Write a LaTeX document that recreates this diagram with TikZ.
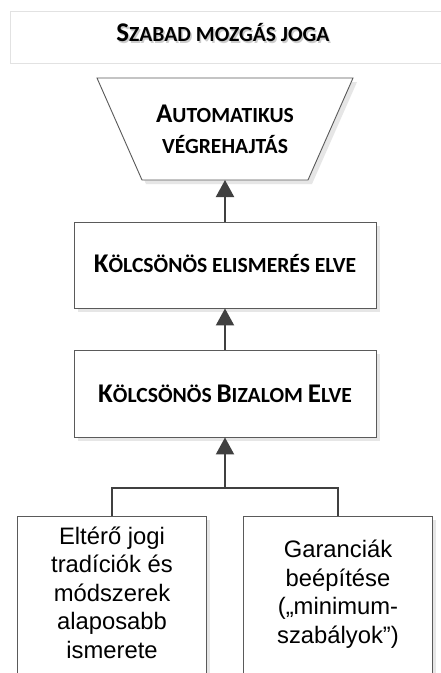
\documentclass[tikz,border=0pt]{standalone}
\usepackage{fontspec}
\setmainfont{Liberation Sans}
\newfontfamily\calib{Carlito}
\usetikzlibrary{arrows.meta}
\definecolor{edge}{HTML}{5A5A5A}
\definecolor{shade}{HTML}{E6E6E6}
\definecolor{arrc}{HTML}{404040}
\definecolor{ttl}{HTML}{E2E2E2}
\definecolor{tshadow}{HTML}{CCCCCC}
\newcommand\BigC[1]{{\fontsize{27}{31}\selectfont #1}}
\newcommand\SmC[1]{{\fontsize{21.6}{31}\selectfont #1}}
\newcommand\Shadowed[1]{\rlap{\hspace{1.5pt}\raisebox{-2.5pt}{\color{tshadow}#1}}#1}
\begin{document}
\begin{tikzpicture}[x=1pt,y=-1pt,
  box/.style={draw=edge, line width=0.9pt, fill=white, inner sep=0pt},
  shadowfill/.style={fill=shade, draw=none},
  lbl/.style={font=\calib\bfseries\fontsize{27}{31}\selectfont, anchor=base, inner sep=0pt, text=black},
  body/.style={font=\fontsize{23.8}{28.4}\selectfont, align=center, inner sep=0pt, anchor=base},
  arr/.style={draw=arrc, line width=2pt, -{Triangle[width=18pt,length=17pt]}},
  conn/.style={draw=arrc, line width=2pt}]
\useasboundingbox (0,0) rectangle (440,673);
\fill[white] (0,0) rectangle (440,673);

% title box
\draw[ttl, line width=0.8pt] (10,11) rectangle (446,63);
\node[lbl] (title) at (223,41) {\Shadowed{\BigC{S}\SmC{ZABAD MOZGÁS JOGA}}};

% trapezoid
\fill[shadowfill] (101,82) -- (357,82) -- (312,184) -- (146,184) -- cycle;
\draw[box] (97,78) -- (353,78) -- (308,180) -- (142,180) -- cycle;
\coordinate (autobot) at (225,180);
\node[lbl, align=center] (auto) at (225,153) {\BigC{A}\SmC{UTOMATIKUS}\\\SmC{VÉGREHAJTÁS}};

% box 2
\fill[shadowfill] (78,226) rectangle (380,312);
\node[box, minimum width=302pt, minimum height=86pt] (b2) at (225,265) {};
\node[lbl] (b2t) at (225,272.7) {\BigC{K}\SmC{ÖLCSÖNÖS ELISMERÉS ELVE}};

% box 3
\fill[shadowfill] (78,354) rectangle (380,441);
\node[box, minimum width=302pt, minimum height=87pt] (b3) at (225,393.5) {};
\node[lbl] (b3t) at (225,402.7) {\BigC{K}\SmC{ÖLCSÖNÖS }\BigC{B}\SmC{IZALOM }\BigC{E}\SmC{LVE}};

% bottom boxes
\fill[shadowfill] (21,520) rectangle (210,690);
\node[box, minimum width=189pt, minimum height=170pt] (bl) at (111.5,601) {};
\fill[shadowfill] (247,520) rectangle (436,690);
\node[box, minimum width=189pt, minimum height=170pt] (br) at (337.5,601) {};
\node[body] (blt) at (112,658) {Eltérő jogi\\tradíciók és\\módszerek\\alaposabb\\ismerete};
\node[body] (brt) at (338,643) {Garanciák\\beépítése\\(„minimum-\\szabályok”)};

% connectors
\coordinate (junc) at (225,488);
\draw[conn] (bl.north) |- (junc) -| (br.north);
\draw[arr] (junc) -- (b3.south);
\draw[arr] (b3.north) -- (b2.south);
\draw[arr] (b2.north) -- (autobot);
\end{tikzpicture}
\end{document}
